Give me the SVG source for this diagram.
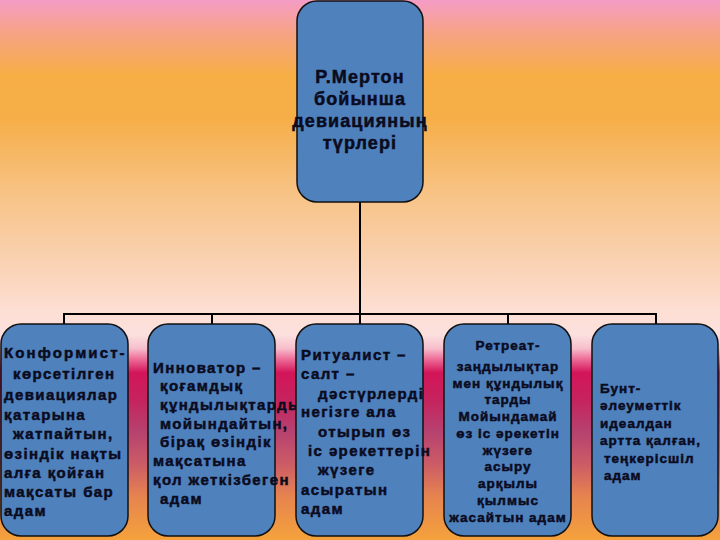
<svg xmlns="http://www.w3.org/2000/svg" width="720" height="540" viewBox="0 0 720 540">
<defs>
<linearGradient id="bg" x1="0" y1="0" x2="0" y2="540" gradientUnits="userSpaceOnUse">
<stop offset="0" stop-color="#F59CC6"/>
<stop offset="0.06" stop-color="#F6A386"/>
<stop offset="0.14" stop-color="#F7AE45"/>
<stop offset="0.22" stop-color="#F6AE48"/>
<stop offset="0.36" stop-color="#F7C386"/>
<stop offset="0.5" stop-color="#FAD4B8"/>
<stop offset="0.58" stop-color="#FDDFD4"/>
<stop offset="0.62" stop-color="#FCE0DE"/>
<stop offset="0.645" stop-color="#F7BFCD"/>
<stop offset="0.665" stop-color="#EE6C98"/>
<stop offset="0.69" stop-color="#D3155A"/>
<stop offset="0.74" stop-color="#C6235E"/>
<stop offset="0.8" stop-color="#B6426F"/>
<stop offset="0.86" stop-color="#CC5C66"/>
<stop offset="0.92" stop-color="#E6844F"/>
<stop offset="1" stop-color="#F5A23C"/>
</linearGradient>
</defs>
<style>
.box{fill:#4F81BD;stroke:#111;stroke-width:1.5}
.t{font-family:"Liberation Sans",Arial,sans-serif;font-weight:bold;fill:#0B0B1E;stroke:#0B0B1E;stroke-width:0.5}
.top{font-size:18px;letter-spacing:1.1px;text-anchor:middle}
.b{font-size:15px;letter-spacing:1.4px}
.s{font-size:13.5px;letter-spacing:1px}
.c{text-anchor:middle}
.ln{fill:none;stroke:#000;stroke-width:2}
</style>
<rect x="0" y="0" width="720" height="540" fill="url(#bg)"/>
<g id="connectors">
<path class="ln" d="M360 202 V314 M64 326 V314 H656 V326 M212 314 V326 M360 314 V326 M508 314 V326"/>
</g>
<g id="root">
<rect class="box" x="297" y="1" width="126" height="201" rx="20"/>
<text class="t top" x="360" y="83">Р.Мертон</text>
<text class="t top" x="360" y="105">бойынша</text>
<text class="t top" x="360" y="127">девиацияның</text>
<text class="t top" x="360" y="149">түрлері</text>
</g>
<g id="n1">
<rect class="box" x="1" y="324" width="127" height="212" rx="20"/>
<text class="t b" x="4" y="358" textLength="122">Конформист-</text>
<text class="t b" x="13" y="379">көрсетілген</text>
<text class="t b" x="4" y="400">девиациялар</text>
<text class="t b" x="4" y="420">қатарына</text>
<text class="t b" x="13" y="439">жатпайтын,</text>
<text class="t b" x="4" y="459">өзіндік нақты</text>
<text class="t b" x="4" y="478">алға қойған</text>
<text class="t b" x="4" y="497">мақсаты бар</text>
<text class="t b" x="4" y="516">адам</text>
</g>
<g id="n2">
<rect class="box" x="148" y="324" width="127" height="212" rx="20"/>
<text class="t b" x="153" y="373">Инноватор –</text>
<text class="t b" x="160" y="391">қоғамдық</text>
<text class="t b" x="160" y="410">құндылықтарды</text>
<text class="t b" x="160" y="429">мойындайтын,</text>
<text class="t b" x="160" y="447">бірақ өзіндік</text>
<text class="t b" x="153" y="466">мақсатына</text>
<text class="t b" x="153" y="485">қол жеткізбеген</text>
<text class="t b" x="160" y="504">адам</text>
</g>
<g id="n3">
<rect class="box" x="296" y="324" width="127" height="212" rx="20"/>
<text class="t b" x="301" y="360">Ритуалист –</text>
<text class="t b" x="301" y="379">салт –</text>
<text class="t b" x="318" y="399">дәстүрлерді</text>
<text class="t b" x="301" y="417">негізге ала</text>
<text class="t b" x="318" y="437">отырып өз</text>
<text class="t b" x="308" y="456">іс әрекеттерін</text>
<text class="t b" x="318" y="475">жүзеге</text>
<text class="t b" x="301" y="495">асыратын</text>
<text class="t b" x="301" y="514">адам</text>
</g>
<g id="n4">
<rect class="box" x="444" y="324" width="127" height="212" rx="20"/>
<text class="t s c" x="508" y="350">Ретреат-</text>
<text class="t s c" x="508" y="371">заңдылықтар</text>
<text class="t s c" x="508" y="388">мен құндылық</text>
<text class="t s c" x="508" y="404">тарды</text>
<text class="t s c" x="508" y="421">Мойындамай</text>
<text class="t s c" x="508" y="438">өз іс әрекетін</text>
<text class="t s c" x="508" y="455">жүзеге</text>
<text class="t s c" x="508" y="471">асыру</text>
<text class="t s c" x="508" y="488">арқылы</text>
<text class="t s c" x="508" y="505">қылмыс</text>
<text class="t s c" x="508" y="522">жасайтын адам</text>
</g>
<g id="n5">
<rect class="box" x="592" y="324" width="126" height="212" rx="20"/>
<text class="t s" x="600" y="393">Бунт-</text>
<text class="t s" x="600" y="410">әлеуметтік</text>
<text class="t s" x="600" y="428">идеалдан</text>
<text class="t s" x="600" y="445">артта қалған,</text>
<text class="t s" x="604" y="463">теңкерісшіл</text>
<text class="t s" x="604" y="480">адам</text>
</g>
</svg>
